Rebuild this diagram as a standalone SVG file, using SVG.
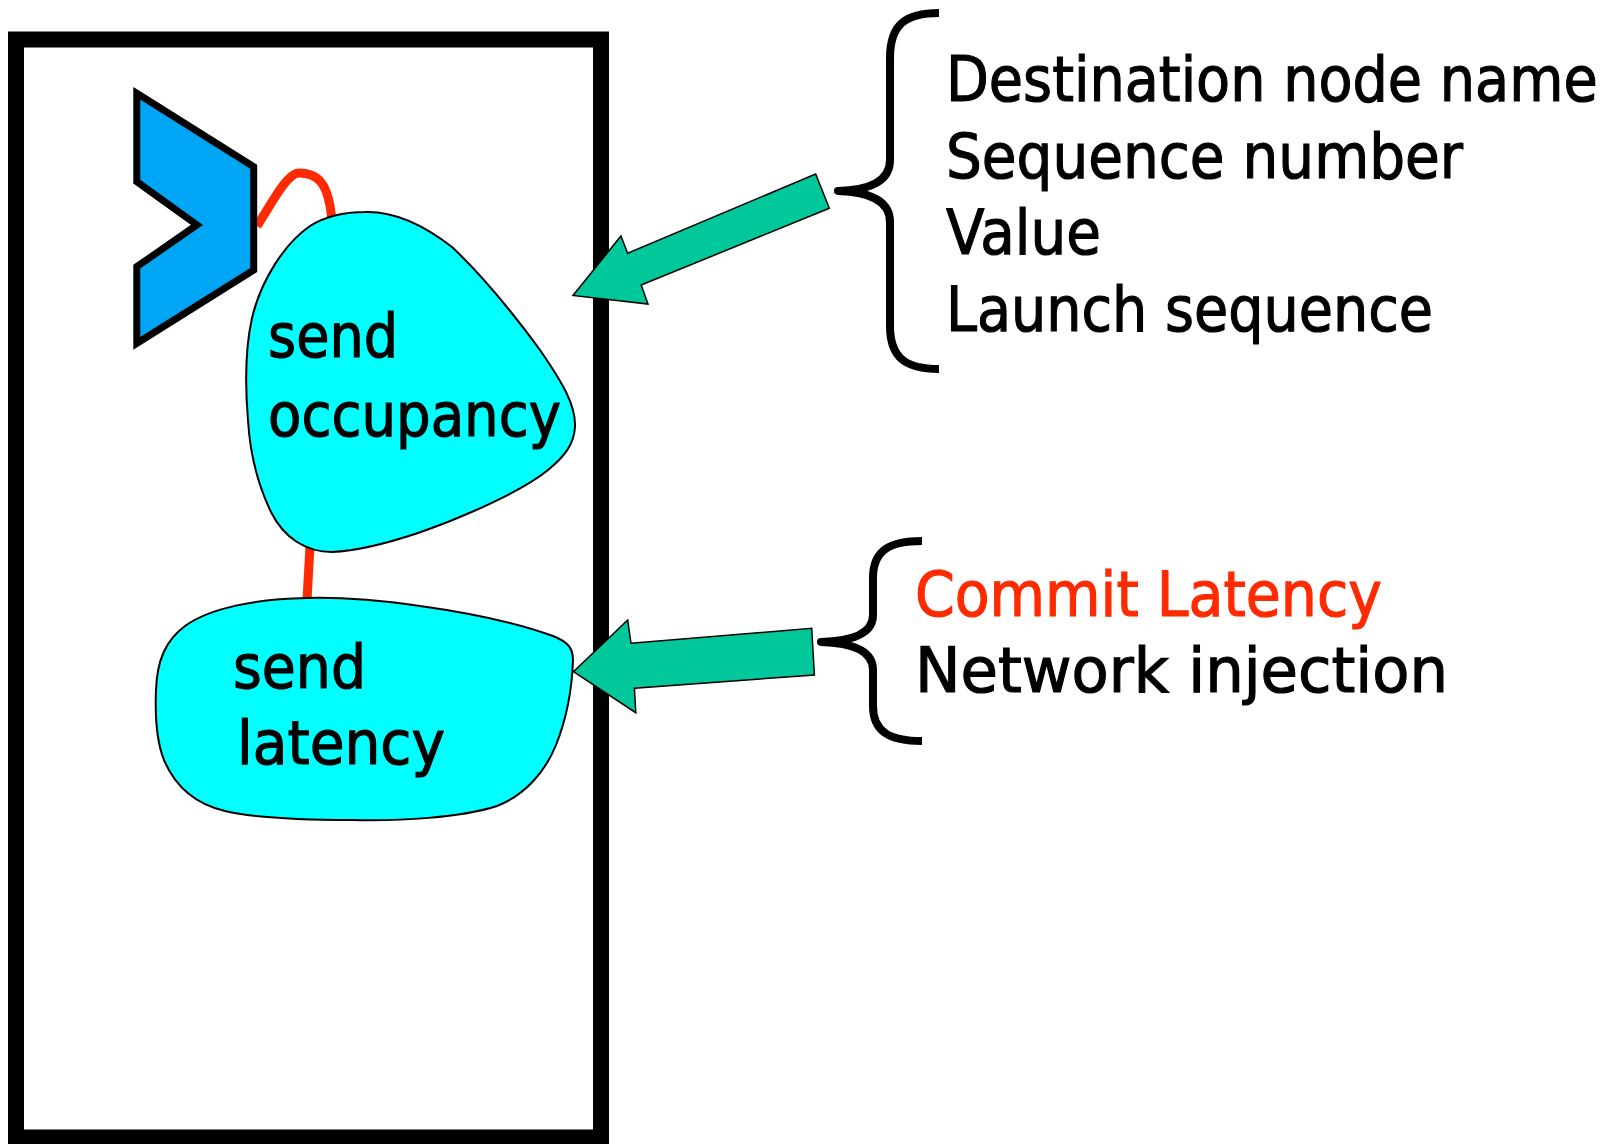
<svg xmlns="http://www.w3.org/2000/svg" width="1621" height="1144" viewBox="0 0 1621 1144">
  <style>
    .frame { fill: none; stroke: #000; stroke-width: 16; }
    .blob { fill: #00FFFF; stroke: #000; stroke-width: 2; }
    .port { fill: #00A6F6; stroke: #000; stroke-width: 7; stroke-linejoin: miter; }
    .wire { fill: none; stroke: #FF2A00; stroke-width: 9; stroke-linecap: butt; }
    .arrow { fill: #00C89A; stroke: #000; stroke-width: 1.5; stroke-linejoin: miter; }
    .brace { fill: none; stroke: #000; stroke-width: 8; stroke-linejoin: round; }
    .lbl { font-family: "DejaVu Sans", "Liberation Sans", sans-serif; fill: #000; stroke: #000; stroke-width: 1.2; }
    .node-lbl { font-size: 61px; }
    .list { font-size: 63px; }
    .hot { fill: #FF2A00; stroke: #FF2A00; }
  </style>

  <rect width="1621" height="1144" fill="#fff"/>

  <!-- enclosing node boundary -->
  <rect id="boundary" class="frame" x="16" y="39.5" width="585" height="1098"/>

  <!-- wires and injection arrows -->
  <g id="connectors">
    <path class="wire" d="M257,226 C272,203 287,173 299,173 C318,173 329,183 332,222"/>
    <path class="wire" d="M310,546 L307,600"/>
    <polygon class="arrow" points="815.7,174 829.3,208.3 641.2,285 648,304 573,295.5 620.9,236 627.7,253.3"/>
    <polygon class="arrow" points="811.7,628.3 814.4,675 634.4,688.3 635.8,712.7 573.5,671.7 627.7,620 631,643.3"/>
  </g>

  <!-- send port symbol -->
  <g id="port">
    <polygon class="port" points="136.8,93.3 253.7,166.7 253.7,270 136.8,343.3 136.8,266.7 196.9,225 136.8,181.7"/>
  </g>

  <g id="send-occupancy">
    <path class="blob" d="M365,212 C395,211 425,226 452,247 C485,278 515,316 540,350 C562,382 576,405 575,427 C574,444 565,456 548,470 C525,489 470,515 418,533 C385,544 355,551 332,552 C306,552 284,538 271,512 C258,485 250,455 248,420 C245,385 245,350 252,318 C261,280 285,243 310,226 C326,216 345,212 365,212 Z"/>
    <text class="lbl node-lbl" x="268" y="357" textLength="130" lengthAdjust="spacingAndGlyphs">send</text>
    <text class="lbl node-lbl" x="268" y="436" textLength="293" lengthAdjust="spacingAndGlyphs">occupancy</text>
  </g>

  <g id="send-latency">
    <path class="blob" d="M307,598 C345,597 385,601 420,606 C470,613 520,624 553,636 C568,642 573,648 573,660 C572,690 566,720 556,745 C545,772 525,795 497,806 C460,818 400,821 353,820 C300,820 255,818 225,811 C195,804 175,786 164,760 C156,740 155,715 156,690 C157,660 166,640 185,626 C210,608 255,599 307,598 Z"/>
    <text class="lbl node-lbl" x="233" y="688" textLength="133" lengthAdjust="spacingAndGlyphs">send</text>
    <text class="lbl node-lbl" x="237" y="764" textLength="208" lengthAdjust="spacingAndGlyphs">latency</text>
  </g>

  <!-- message contents -->
  <g id="message-fields">
    <path class="brace" d="M939,13 C906,13 890,24 890,58 L890,160 C890,180 872,190 838,191 C872,192 890,202 890,222 L890,326 C890,358 906,369 939,369"/>
    <text class="lbl list" transform="translate(946,101) scale(0.884,1)" x="0" y="0">Destination node name</text>
    <text class="lbl list" x="946" y="178" textLength="517" lengthAdjust="spacingAndGlyphs">Sequence number</text>
    <text class="lbl list" x="946" y="254" textLength="155" lengthAdjust="spacingAndGlyphs">Value</text>
    <text class="lbl list" x="946" y="331" textLength="487" lengthAdjust="spacingAndGlyphs">Launch sequence</text>
  </g>

  <!-- latency components -->
  <g id="latency-fields">
    <path class="brace" d="M922,541 C890,541 873,550 873,578 L873,615 C873,632 856,641 821,642 C856,643 873,652 873,670 L873,706 C873,732 890,741 922,741"/>
    <text class="lbl list hot" x="915" y="616" textLength="467" lengthAdjust="spacingAndGlyphs">Commit Latency</text>
    <text class="lbl list" x="915" y="692" textLength="533" lengthAdjust="spacingAndGlyphs">Network injection</text>
  </g>
</svg>
